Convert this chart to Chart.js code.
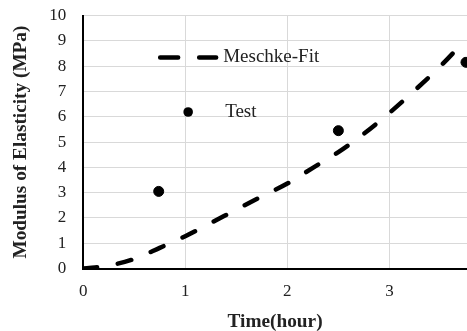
<!DOCTYPE html>
<html>
<head>
<meta charset="utf-8">
<script src="https://cdn.jsdelivr.net/npm/chart.js@4/dist/chart.umd.min.js"></script>
<style>
  html, body { margin: 0; padding: 0; background: #fff; }
  canvas { display: block; }
</style>
</head>
<body>
<canvas id="myChart" width="467" height="331"></canvas>
<script>
'use strict';

// Meschke-Fit curve
let fitX = [0, 0.25, 0.5, 0.75, 1, 1.25, 1.5, 1.75, 2, 2.25, 2.5, 2.75, 3, 3.25, 3.5, 3.76];
let fitY = [0, 0.12, 0.38, 0.82, 1.28, 1.8, 2.33, 2.85, 3.36, 3.98, 4.6, 5.33, 6.15, 7.05, 8.0, 9.1];

// test points
let testX = [0.74, 2.5, 3.75];
let testY = [3.05, 5.45, 8.15];

let xTicks = [0, 1, 2, 3];
let yTicks = [0, 1, 2, 3, 4, 5, 6, 7, 8, 9, 10];

let serif = '"Liberation Serif", "Times New Roman", serif';

function toPoints(xs, ys) {
  let pts = [];
  for (let i = 0; i < xs.length; i++) {
    pts.push({ x: xs[i], y: ys[i] });
  }
  return pts;
}

// legend drawn inside the plot like the original
let insideLegend = {
  id: 'insideLegend',
  afterDraw(chart) {
    let ctx = chart.ctx;
    let a = chart.chartArea;
    let lx = a.left + 77;
    let y1 = a.top + 42;
    let y2 = a.top + 96.5;
    ctx.save();
    ctx.strokeStyle = '#000';
    ctx.lineWidth = 4.5;
    ctx.lineCap = 'round';
    ctx.setLineDash([18, 21]);
    ctx.beginPath();
    ctx.moveTo(lx, y1);
    ctx.lineTo(lx + 56, y1);
    ctx.stroke();
    ctx.setLineDash([]);
    ctx.fillStyle = '#000';
    ctx.beginPath();
    ctx.arc(a.left + 105, y2, 4.8, 0, Math.PI * 2);
    ctx.fill();
    ctx.fillStyle = '#222';
    ctx.font = '19px ' + serif;
    ctx.textBaseline = 'middle';
    ctx.fillText('Meschke-Fit', a.left + 140, y1);
    ctx.fillText('Test', a.left + 142, y2);
    ctx.restore();
  }
};

const ctx = document.getElementById('myChart');

new Chart(ctx, {
  type: 'scatter',
  data: {
    datasets: [{
      label: 'Meschke-Fit',
      data: toPoints(fitX, fitY),
      showLine: true,
      borderColor: '#000',
      borderWidth: 4.5,
      borderDash: [14, 21],
      borderCapStyle: 'round',
      cubicInterpolationMode: 'monotone',
      pointRadius: 0
    }, {
      label: 'Test',
      data: toPoints(testX, testY),
      backgroundColor: '#000',
      borderColor: '#000',
      pointRadius: 5
    }]
  },
  options: {
    responsive: false,
    animation: false,
    layout: { autoPadding: false, padding: { left: 9, right: 0, top: 15.5, bottom: 2.4 } },
    plugins: {
      legend: { display: false },
      tooltip: { enabled: false }
    },
    scales: {
      x: {
        type: 'linear',
        min: 0,
        max: 3.76,
        afterBuildTicks: (axis) => { axis.ticks = xTicks.map(v => ({ value: v })); },
        grid: { color: '#d9d9d9', lineWidth: 1, drawTicks: false },
        border: { color: '#000', width: 2 },
        ticks: { color: '#222', padding: 13.2, autoSkip: false, font: { family: serif, size: 17 } },
        title: {
          display: true,
          text: 'Time(hour)',
          color: '#222',
          padding: { top: 0, bottom: 0 },
          font: { family: serif, size: 19.3, weight: 'bold', lineHeight: 0.684 }
        }
      },
      y: {
        min: 0,
        max: 10,
        afterBuildTicks: (axis) => { axis.ticks = yTicks.map(v => ({ value: v })); },
        // keep the plot top where the original has it
        afterFit: (axis) => { axis.paddingTop = 0; axis.paddingBottom = 0; },
        grid: { color: '#d9d9d9', lineWidth: 1, drawTicks: false },
        border: { color: '#000', width: 2 },
        ticks: { color: '#222', padding: 17, autoSkip: false, font: { family: serif, size: 17 } },
        title: {
          display: true,
          text: 'Modulus of Elasticity (MPa)',
          color: '#222',
          padding: { top: 0, bottom: 0 },
          font: { family: serif, size: 19.3, weight: 'bold' }
        }
      }
    }
  },
  plugins: [insideLegend]
});
</script>
</body>
</html>
